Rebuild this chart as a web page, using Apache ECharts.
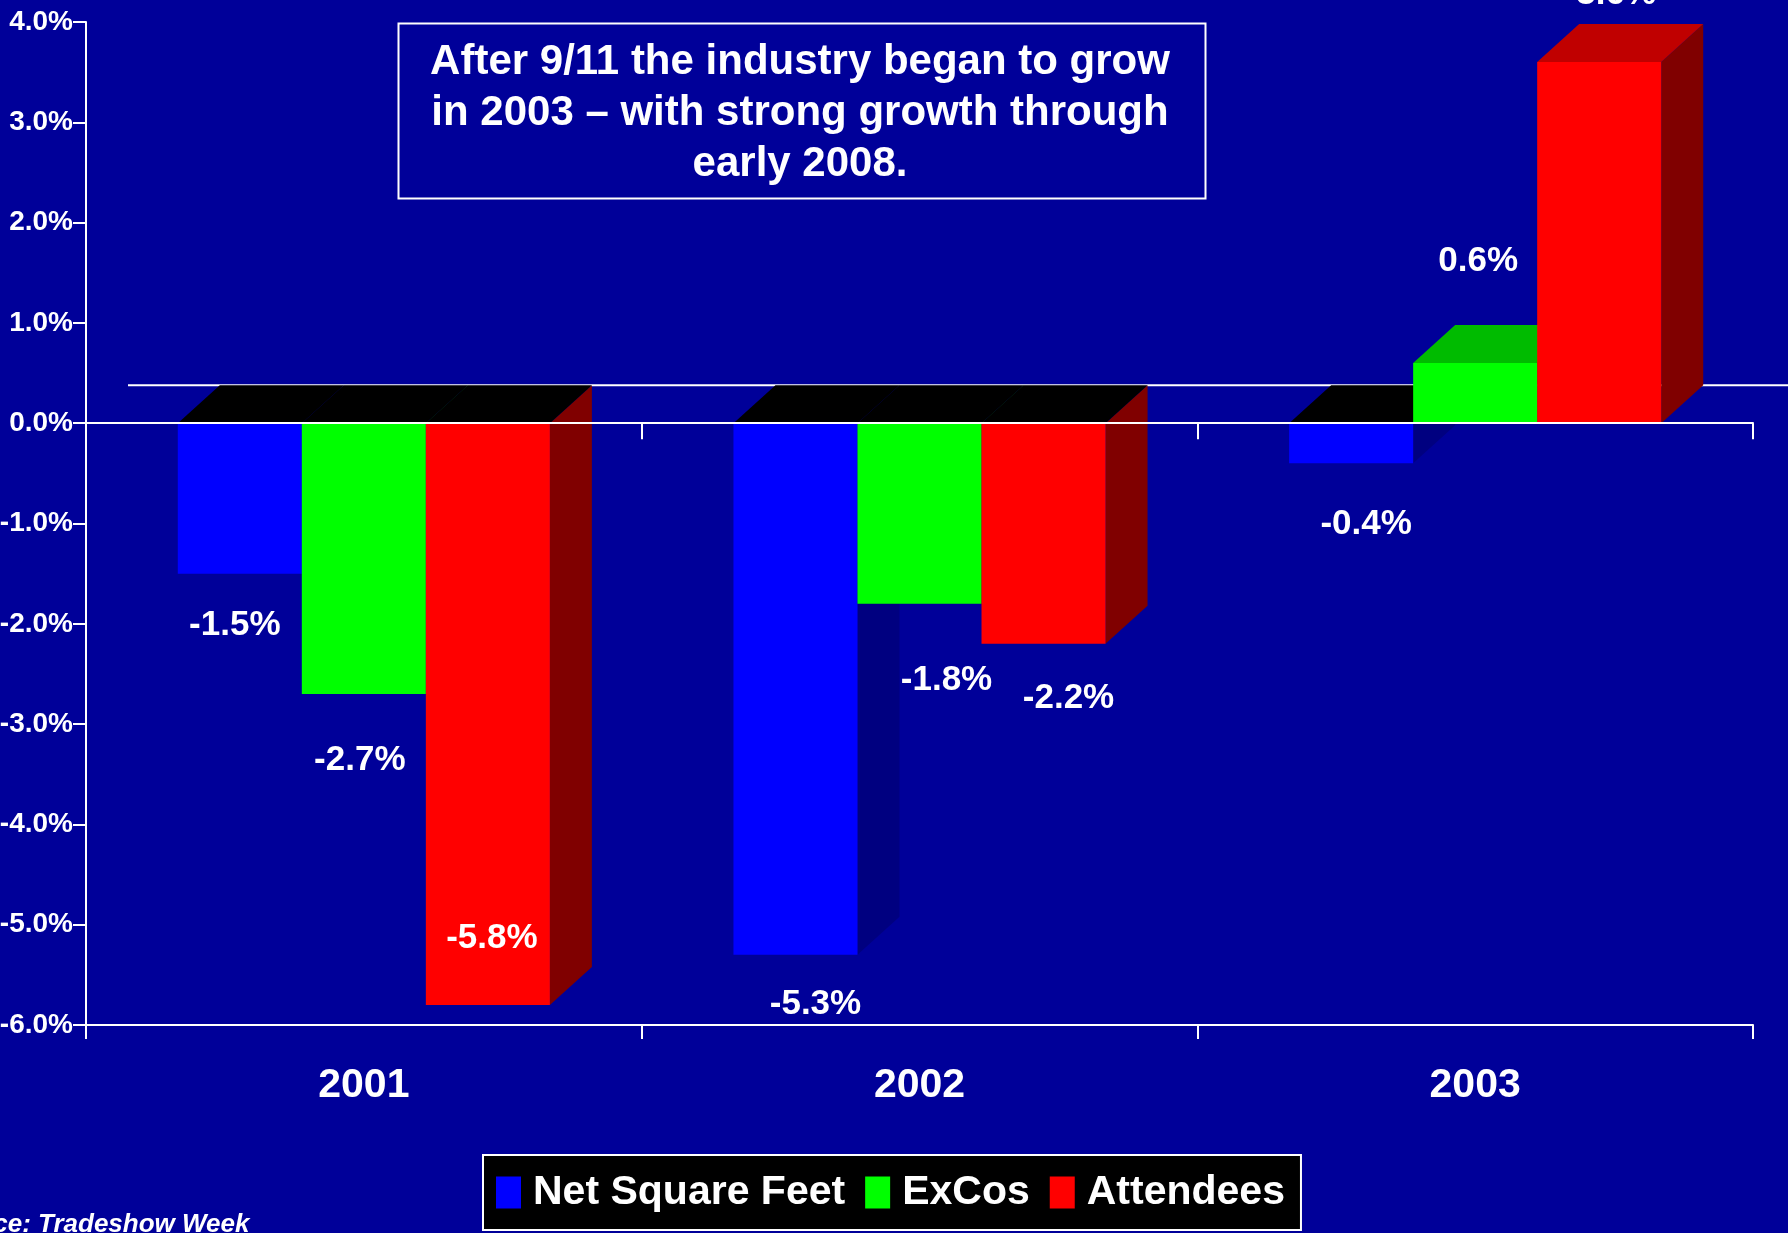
<!DOCTYPE html>
<html>
<head>
<meta charset="utf-8">
<title>Growth after 9/11</title>
<script src="https://cdn.jsdelivr.net/npm/echarts@6/dist/echarts.min.js"></script>
<style>
	html, body { margin: 0; padding: 0; background: #000099; }
	#chart { width: 1788px; height: 1233px; }
</style>
</head>
<body>
<div id="chart"></div>
<script>
var years = ['2001', '2002', '2003'];
var netSquareFeet = [-1.5, -5.3, -0.4];
var exCos = [-2.7, -1.8, 0.6];
var attendees = [-5.8, -2.2, 3.6];

// label nudges in px, from the bar centre / bar end (the slide had them dragged by hand)
var netShift = [[-5, 52], [20, 50], [15, 61]];
var exCosShift = [[-4, 66], [27, 77], [3, -102]];
var attShift = [[4, -67], [25, 54], [17, -68]];

var FONT = '"Liberation Sans", Arial, sans-serif';
var DX = 42, DY = 38;
var BAR_RATIO = 0.2232;

function make3dSeries(name, values, slot, faces, shifts) {
	return {
		name: name,
		type: 'custom',
		itemStyle: {color: faces.front},
		clip: false,
		data: values.map(function (v, i) { return [i, v]; }),
		encode: {x: 0, y: 1},
		renderItem: function (params, api) {
			var cat = api.value(0);
			var val = api.value(1);
			var bw = api.size([1, 0])[0] * BAR_RATIO;
			var base = api.coord([cat, 0]);
			var end = api.coord([cat, val]);
			var x0 = base[0] - 1.5 * bw + slot * bw;
			var x1 = x0 + bw;
			var yTop = Math.min(base[1], end[1]);
			var yBot = Math.max(base[1], end[1]);
			var sh = shifts[params.dataIndex];
			return {
				type: 'group',
				children: [
					{
						type: 'polygon',
						shape: {points: [[x1, yTop], [x1 + DX, yTop - DY], [x1 + DX, yBot - DY], [x1, yBot]]},
						style: {fill: faces.side}
					},
					{
						type: 'polygon',
						shape: {points: [[x0, yTop], [x1, yTop], [x1 + DX, yTop - DY], [x0 + DX, yTop - DY]]},
						style: {fill: val < 0 ? '#000000' : faces.top}
					},
					{
						type: 'rect',
						shape: {x: x0, y: yTop, width: bw, height: yBot - yTop},
						style: {fill: faces.front}
					},
					{
						type: 'text',
						x: (x0 + x1) / 2 + sh[0],
						y: end[1] + sh[1],
						style: {
							text: val.toFixed(1) + '%',
							fill: '#ffffff',
							fontSize: 35,
							fontWeight: 'bold',
							fontFamily: FONT,
							align: 'center',
							verticalAlign: 'middle'
						}
					}
				]
			};
		}
	};
}

var myChart = echarts.init(document.getElementById('chart'));

var option = {
	backgroundColor: '#000099',
	animation: false,
	grid: {
		left: 86,
		right: 35,
		top: 22,
		bottom: 208,
		outerBoundsMode: 'none'
	},

	legend: {
		data: ['Net Square Feet', 'ExCos', 'Attendees'],
		left: 483,
		top: 1155,
		padding: [17, 16, 17, 13],
		itemGap: 20,
		itemWidth: 25,
		itemHeight: 32,
		icon: 'rect',
		selectedMode: false,
		backgroundColor: '#000000',
		borderColor: '#ffffff',
		borderWidth: 2,
		textStyle: {
			color: '#ffffff',
			fontSize: 41,
			fontWeight: 'bold',
			fontFamily: FONT,
			padding: [0, 0, 0, 7]
		}
	},

	xAxis: [
		{
			type: 'category',
			data: years,
			position: 'bottom',
			axisLine: {onZero: false, lineStyle: {color: '#ffffff', width: 2}},
			axisTick: {show: true, length: 14, lineStyle: {color: '#ffffff', width: 2}},
			axisLabel: {
				color: '#ffffff',
				fontSize: 41,
				fontWeight: 'bold',
				fontFamily: FONT,
				margin: 40
			},
			splitLine: {show: false}
		},
		{
			type: 'category',
			data: years,
			position: 'top',
			z: 10,
			axisLine: {onZero: true, lineStyle: {color: '#ffffff', width: 2}},
			axisTick: {show: true, inside: true, length: 16, lineStyle: {color: '#ffffff', width: 2}},
			axisLabel: {show: false},
			splitLine: {show: false}
		}
	],

	yAxis: {
		type: 'value',
		min: -6,
		max: 4,
		interval: 1,
		axisLine: {show: true, onZero: false, lineStyle: {color: '#ffffff', width: 2}},
		axisTick: {show: true, length: 13, lineStyle: {color: '#ffffff', width: 2}},
		axisLabel: {
			color: '#ffffff',
			fontSize: 28,
			fontWeight: 'bold',
			fontFamily: FONT,
			margin: 13,
			formatter: function (v) { return v.toFixed(1) + '%'; }
		},
		splitLine: {show: false}
	},

	series: [
		{
			// back edge of the floor at 0%
			name: 'back',
			type: 'custom',
			data: [[0, 0]],
			encode: {x: 0, y: 1},
			clip: false,
			silent: true,
			renderItem: function (params, api) {
				var cs = params.coordSys;
				var y = api.coord([0, 0])[1] - DY;
				return {
					type: 'line',
					shape: {x1: cs.x + DX, y1: y, x2: cs.x + cs.width + DX + 10, y2: y},
					style: {stroke: '#ffffff', lineWidth: 2}
				};
			}
		},
		make3dSeries('Net Square Feet', netSquareFeet, 0,
			{front: '#0000ff', side: '#000080', top: '#0000c0'}, netShift),
		make3dSeries('ExCos', exCos, 1,
			{front: '#00ff00', side: '#008000', top: '#00bb00'}, exCosShift),
		make3dSeries('Attendees', attendees, 2,
			{front: '#ff0000', side: '#800000', top: '#c00000'}, attShift)
	],

	graphic: [
		{
			type: 'rect',
			left: 396,
			top: 21,
			shape: {width: 807, height: 175},
			style: {fill: 'none', stroke: '#ffffff', lineWidth: 2}
		},
		{
			type: 'text',
			x: 800,
			y: 113,
			style: {
				text: 'After 9/11 the industry began to grow\nin 2003 \u2013 with strong growth through\nearly 2008.',
				fill: '#ffffff',
				fontSize: 42,
				fontWeight: 'bold',
				fontFamily: FONT,
				lineHeight: 51,
				align: 'center',
				verticalAlign: 'middle'
			}
		},
		{
			type: 'text',
			x: -66,
			y: 1212,
			style: {
				text: 'Source: Tradeshow Week',
				fill: '#ffffff',
				fontSize: 26,
				fontWeight: 'bold',
				fontStyle: 'italic',
				fontFamily: FONT,
				verticalAlign: 'top'
			}
		}
	]
};

myChart.setOption(option);
</script>
</body>
</html>
